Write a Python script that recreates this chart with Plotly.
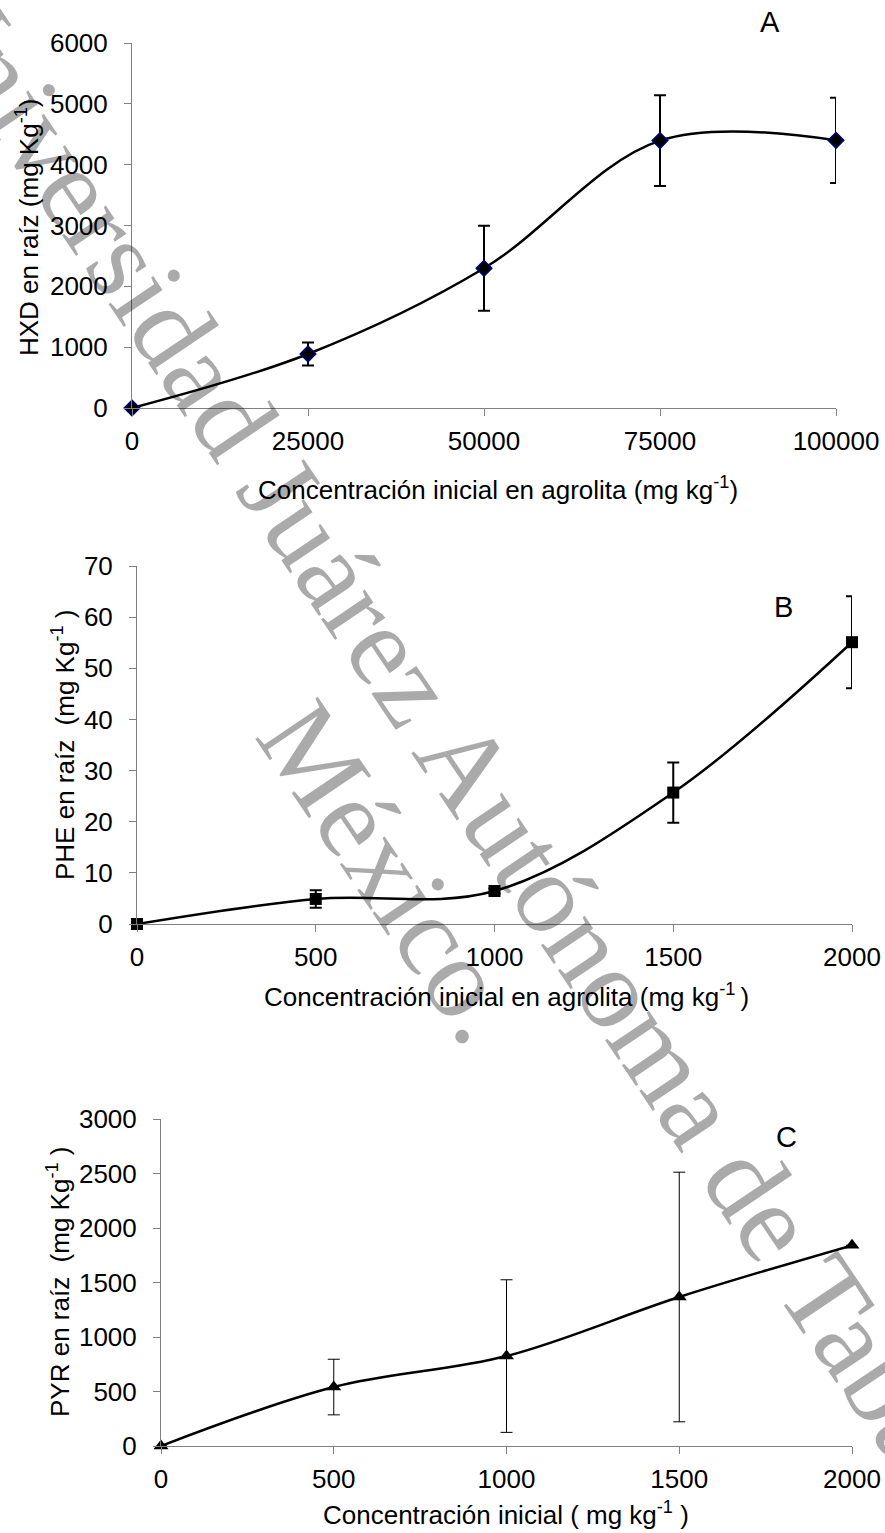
import plotly.graph_objects as go

W, H = 885, 1533

# ---- data ----
conc_A = [0, 25000, 50000, 75000, 100000]
hxd = [0, 888, 2297, 4396, 4400]
hxd_err = [0, 190, 700, 745, 700]

conc_B = [0, 500, 1000, 1500, 2000]
phe = [0, 4.9, 6.45, 25.7, 55.1]
phe_err = [0, 1.7, 0.5, 5.9, 9.0]

conc_C = [0, 500, 1000, 1500, 2000]
pyr = [0, 541, 825, 1367, 1841]
pyr_err = [0, 255, 700, 1145, 0]

xticks_A = [0, 25000, 50000, 75000, 100000]
xticks_A_txt = ["0", "25000", "50000", "75000", "100000"]
yticks_A = [0, 1000, 2000, 3000, 4000, 5000, 6000]
xticks_BC = [0, 500, 1000, 1500, 2000]
yticks_B = [0, 10, 20, 30, 40, 50, 60, 70]
yticks_C = [0, 500, 1000, 1500, 2000, 2500, 3000]

FONT = "Liberation Sans, Arial, sans-serif"
GRAY = "#808080"


def px_x(p):
    return p / W


def px_y(p):
    return 1 - p / H


fig = go.Figure()

fig.add_trace(go.Scatter(
    x=conc_A, y=hxd, mode="lines+markers", xaxis="x", yaxis="y",
    line=dict(color="black", width=2.5, shape="spline", smoothing=1),
    marker=dict(symbol="diamond", size=12, color="black",
                line=dict(color="#000080", width=1.5)),
    error_y=dict(type="data", array=hxd_err, visible=True, color="black",
                 thickness=2, width=6),
    cliponaxis=False, showlegend=False))

fig.add_trace(go.Scatter(
    x=conc_B, y=phe, mode="lines+markers", xaxis="x2", yaxis="y2",
    line=dict(color="black", width=2.5, shape="spline", smoothing=1),
    marker=dict(symbol="square", size=12, color="black"),
    error_y=dict(type="data", array=phe_err, visible=True, color="black",
                 thickness=2, width=6),
    cliponaxis=False, showlegend=False))

fig.add_trace(go.Scatter(
    x=conc_C, y=pyr, mode="lines+markers", xaxis="x3", yaxis="y3",
    line=dict(color="black", width=2.5, shape="spline", smoothing=1),
    marker=dict(symbol="triangle-up", size=13, color="black"),
    error_y=dict(type="data", array=pyr_err, visible=True, color="black",
                 thickness=1, width=6),
    cliponaxis=False, showlegend=False))

axis_common = dict(showline=True, linecolor=GRAY, linewidth=1, ticks="outside",
                   ticklen=7, tickcolor=GRAY, tickwidth=1, showgrid=False,
                   zeroline=False, automargin=False,
                   tickfont=dict(family=FONT, size=26, color="black"))

fig.update_layout(
    width=W, height=H, margin=dict(l=0, r=0, t=0, b=0, autoexpand=False),
    paper_bgcolor="white", plot_bgcolor="rgba(0,0,0,0)",
    xaxis=dict(domain=[px_x(132), px_x(836)], range=[0, 100000], anchor="y",
               tickvals=xticks_A, ticktext=xticks_A_txt, ticklabelstandoff=3,
               **axis_common),
    yaxis=dict(domain=[px_y(408), px_y(43)], range=[0, 6000], anchor="x",
               tickvals=yticks_A, ticktext=[str(v) for v in yticks_A],
               ticklabelstandoff=11, **axis_common),
    xaxis2=dict(domain=[px_x(137), px_x(852)], range=[0, 2000], anchor="y2",
                tickvals=xticks_BC, ticktext=[str(v) for v in xticks_BC],
                ticklabelstandoff=3, **axis_common),
    yaxis2=dict(domain=[px_y(924), px_y(566)], range=[0, 70], anchor="x2",
                tickvals=yticks_B, ticktext=[str(v) for v in yticks_B],
                ticklabelstandoff=11, **axis_common),
    xaxis3=dict(domain=[px_x(161), px_x(852)], range=[0, 2000], anchor="y3",
                tickvals=xticks_BC, ticktext=[str(v) for v in xticks_BC],
                ticklabelstandoff=3, **axis_common),
    yaxis3=dict(domain=[px_y(1446), px_y(1119)], range=[0, 3000], anchor="x3",
                tickvals=yticks_C, ticktext=[str(v) for v in yticks_C],
                ticklabelstandoff=11, **axis_common),
)

labels = [
    # (text, x px, y px, angle, size)
    ("Concentración inicial en agrolita (mg kg<sup>-1</sup>)", 498, 488, 0, 26),
    ("HXD en raíz (mg Kg<sup>-1</sup>)", 27, 228, -90, 26),
    ("A", 770, 22, 0, 29),
    ("Concentración inicial en agrolita (mg kg<sup>-1 </sup>)", 507, 995, 0, 26),
    ("PHE en raíz&nbsp;&nbsp;(mg Kg<sup>-1</sup> )", 63, 745, -90, 26),
    ("B", 783, 607, 0, 29),
    ("Concentración inicial ( mg kg<sup>-1</sup> )", 506, 1513, 0, 26),
    ("PYR en raíz&nbsp;&nbsp;(mg Kg<sup>-1</sup> )", 58, 1282, -90, 26),
    ("C", 786, 1137, 0, 29),
]
for t, x, y, ang, sz in labels:
    fig.add_annotation(text=t, x=px_x(x), y=px_y(y), xref="paper", yref="paper",
                       showarrow=False, textangle=ang, xanchor="center",
                       yanchor="middle", font=dict(family=FONT, size=sz, color="black"))

# watermark (two lines, drawn as translucent black so marks show through)
wm_font = dict(family="Liberation Serif, Times New Roman, serif", size=115,
               color="rgba(0,0,0,0.335)")
for t, x, y in [("Universidad Juárez Autónoma de Tabasco.", 484, 791),
                ("México.", 392, 872)]:
    fig.add_annotation(text=t, x=px_x(x), y=px_y(y), xref="paper", yref="paper",
                       showarrow=False, textangle=56, xanchor="center",
                       yanchor="middle", font=wm_font)

fig.write_html(
    "out.html",
    config={"displayModeBar": False},
    post_script="document.body.style.margin='0';document.body.style.overflow='hidden';",
)
